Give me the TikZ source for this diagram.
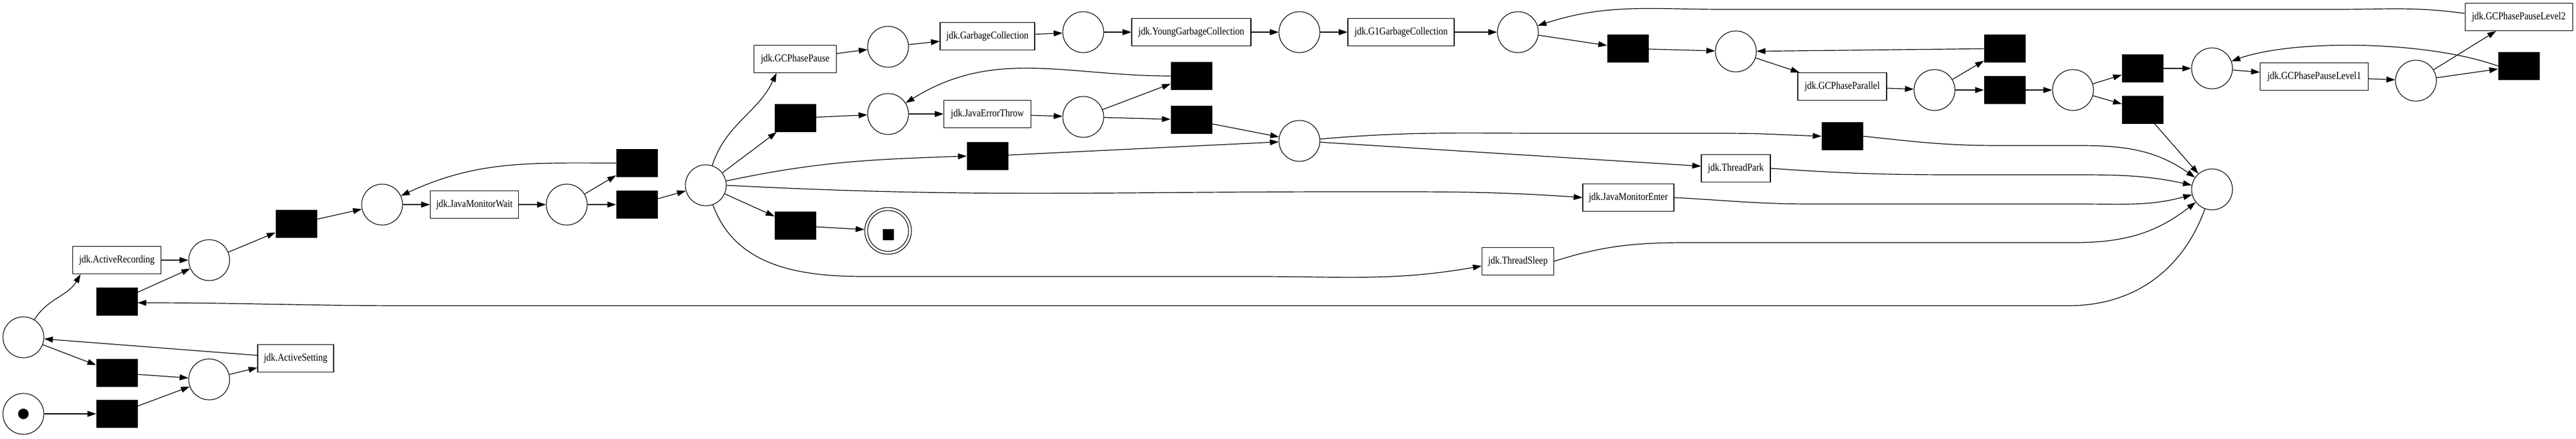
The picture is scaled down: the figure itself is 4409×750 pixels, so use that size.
\documentclass[tikz,border=0pt]{standalone}
\usepackage{fontspec}
\setmainfont[FakeStretch=0.86]{Liberation Serif}
\usetikzlibrary{arrows.meta}
\begin{document}
\begin{tikzpicture}[x=0.25pt,y=-0.25pt,
  place/.style={circle,draw,line width=0.28pt,minimum size=17.5pt,inner sep=0pt},
  trans/.style={rectangle,draw,line width=0.28pt,minimum height=11.75pt,inner sep=0pt,font=\fontsize{4.5}{5}\selectfont},
  silent/.style={rectangle,fill=black,draw=black,line width=0.2pt,minimum width=17.5pt,minimum height=11.75pt,inner sep=0pt},
  arc/.style={-{Triangle[length=3.75pt,width=2.5pt]},line width=0.3pt},
]
\useasboundingbox (0,0) rectangle (4409,750);
% places
\node[place] (pStart) at (40,708) {};
\node[circle,fill=black,minimum size=4.5pt,inner sep=0pt] (tok) at (40,708) {};
\node[place] (pL) at (40,577) {};
\node[place] (pAR) at (358,445) {};
\node[place] (pAS) at (358,649) {};
\node[place] (pA) at (654,350) {};
\node[place] (pB) at (970,350) {};
\node[place] (hub) at (1208,317) {};
\node[place] (pGP) at (1520,80) {};
\node[place] (pGC) at (1854,55) {};
\node[place] (pYG) at (2224,55) {};
\node[place] (pG1) at (2598,55) {};
\node[place] (pE1) at (1520,195) {};
\node[place] (pE2) at (1854,200) {};
\node[place] (pM) at (2224,241) {};
\node[place] (pP1) at (2971,88) {};
\node[place] (pP2) at (3311,154) {};
\node[place] (pP3) at (3548,154) {};
\node[place] (pL1a) at (3786,117) {};
\node[place] (pL1b) at (4135,138) {};
\node[place] (pEnd) at (3786,324) {};
\node[place,minimum size=20pt] (pFin) at (1520,395) {};
\node[place] (pFinIn) at (1520,395) {};
\node[rectangle,fill=black,minimum size=4.75pt,inner sep=0pt] (finTok) at (1520,401) {};
% labelled transitions
\node[trans,minimum width=37.75pt] (tAR) at (200,445) {jdk.ActiveRecording};
\node[trans,minimum width=32.5pt] (tAS) at (506,613) {jdk.ActiveSetting};
\node[trans,minimum width=37.75pt] (tJMW) at (812,350) {jdk.JavaMonitorWait};
\node[trans,minimum width=35.25pt] (tGPP) at (1361,101) {jdk.GCPhasePause};
\node[trans,minimum width=40.5pt] (tGC) at (1690,62) {jdk.GarbageCollection};
\node[trans,minimum width=37.25pt] (tJET) at (1690,195) {jdk.JavaErrorThrow};
\node[trans,minimum width=51pt] (tYGC) at (2039,55) {jdk.YoungGarbageCollection};
\node[trans,minimum width=45.5pt] (tG1) at (2398,55) {jdk.G1GarbageCollection};
\node[trans,minimum width=38pt] (tGPar) at (3153,148) {jdk.GCPhaseParallel};
\node[trans,minimum width=29.5pt] (tTP) at (2971,288) {jdk.ThreadPark};
\node[trans,minimum width=39pt] (tJME) at (2787,338) {jdk.JavaMonitorEnter};
\node[trans,minimum width=30.75pt] (tTS) at (2598,447) {jdk.ThreadSleep};
\node[trans,minimum width=46.25pt] (tL1) at (3961,131) {jdk.GCPhasePauseLevel1};
\node[trans,minimum width=46pt] (tL2) at (4311,29) {jdk.GCPhasePauseLevel2};
% silent transitions
\node[silent] (s1) at (200,516) {};
\node[silent] (s2) at (200,638) {};
\node[silent] (s3) at (200,708) {};
\node[silent] (s4) at (507,383) {};
\node[silent] (s5) at (1090,279) {};
\node[silent] (s6) at (1090,350) {};
\node[silent] (s7) at (1361,202) {};
\node[silent] (s8) at (1690,267) {};
\node[silent] (s9) at (1361,386) {};
\node[silent] (s10) at (2039,130) {};
\node[silent] (s11) at (2039,205) {};
\node[silent] (s12) at (2786,83) {};
\node[silent] (s13) at (3431,83) {};
\node[silent] (s14) at (3431,154) {};
\node[silent] (s15) at (3153,233) {};
\node[silent] (s16) at (3667,117) {};
\node[silent] (s17) at (3667,188) {};
\node[silent] (s18) at (4311,113) {};
% arcs - left part
\draw[arc] (pStart) -- (s3);
\draw[arc] (s3) -- (pAS);
\draw[arc] (pAS) -- (tAS);
\draw[arc] (tAS) -- (pL);
\draw[arc] (pL) -- (s2);
\draw[arc] (s2) -- (pAS);
\draw[arc] (pL) to[out=58,in=240] ([xshift=3.5pt]tAR.south west);
\draw[arc] (tAR) -- (pAR);
\draw[arc] (s1) -- (pAR);
\draw[arc] (pAR) -- (s4);
\draw[arc] (s4) -- (pA);
\draw[arc] (pA) -- (tJMW);
\draw[arc] (tJMW) -- (pB);
\draw[arc] (pB) -- (s5);
\draw[arc] (pB) -- (s6);
\draw[arc] (s5.west) to[out=180,in=25] (pA);
\draw[arc] (s6) -- (hub);
% hub
\draw[arc] (hub) to[out=72,in=245] ([xshift=-8pt]tGPP.south);
\draw[arc] (hub) -- (s7);
\draw[arc] (hub) to[out=12,in=182] (s8.west);
\draw[arc] (hub.east) to[out=-3,in=180] (2300,328) to[out=0,in=176] (tJME.west);
\draw[arc] (hub) -- (s9);
\draw[arc] (s9) -- (pFin);
\draw[arc] (hub) to[out=-70,in=180] (1480,473) -- (2150,473) to[out=0,in=190] ([yshift=-2pt]tTS.west);
% top chain
\draw[arc] (tGPP) -- (pGP);
\draw[arc] (pGP) -- (tGC);
\draw[arc] (tGC) -- (pGC);
\draw[arc] (pGC) -- (tYGC);
\draw[arc] (tYGC) -- (pYG);
\draw[arc] (pYG) -- (tG1);
\draw[arc] (tG1) -- (pG1);
\draw[arc] (pG1) -- (s12);
\draw[arc] (s12) -- (pP1);
\draw[arc] (pP1) -- (tGPar);
\draw[arc] (tGPar) -- (pP2);
\draw[arc] (pP2) -- (s13);
\draw[arc] (pP2) -- (s14);
\draw[arc] (s13) -- (pP1);
\draw[arc] (s14) -- (pP3);
\draw[arc] (pP3) -- (s16);
\draw[arc] (pP3) -- (s17);
\draw[arc] (s16) -- (pL1a);
\draw[arc] (pL1a) -- (tL1);
\draw[arc] (tL1) -- (pL1b);
\draw[arc] (pL1b) -- (tL2);
\draw[arc] (pL1b) -- (s18);
\draw[arc] (s18.west) .. controls (4150,68) and (3920,68) .. (pL1a);
\draw[arc] ([yshift=1.5pt]tL2.west) to[out=172,in=0] (4000,16) -- (2950,16) to[out=180,in=18] (pG1);
% error chain
\draw[arc] (s7) -- (pE1);
\draw[arc] (pE1) -- (tJET);
\draw[arc] (tJET) -- (pE2);
\draw[arc] (pE2) -- (s10);
\draw[arc] (pE2) -- (s11);
\draw[arc] (s10.west) to[out=180,in=32] (pE1);
\draw[arc] (s11) -- (pM);
\draw[arc] (s8) -- (pM);
\draw[arc] (pM) to[out=5,in=180] (2650,228) -- (2950,228) to[out=0,in=178] (s15.west);
\draw[arc] (pM) -- (tTP);
% into end place
\draw[arc] (s17) -- (pEnd);
\draw[arc] (s15.east) to[out=-6,in=180] (3420,249) -- (3560,249) to[out=0,in=145] (pEnd);
\draw[arc] (tTP.east) to[out=-4,in=180] (3350,299) -- (3560,299) to[out=0,in=168] (pEnd);
\draw[arc] (tJME.east) to[out=-3,in=180] (3100,349) -- (3560,349) to[out=0,in=195] (pEnd);
\draw[arc] (tTS.east) to[out=18,in=180] (2950,415) -- (3550,415) to[out=0,in=218] (pEnd);
\draw[arc] (pEnd) to[out=250,in=0] (3540,523) -- (700,523) to[out=180,in=0] ([yshift=-0.5pt]s1.east);
\end{tikzpicture}
\end{document}
